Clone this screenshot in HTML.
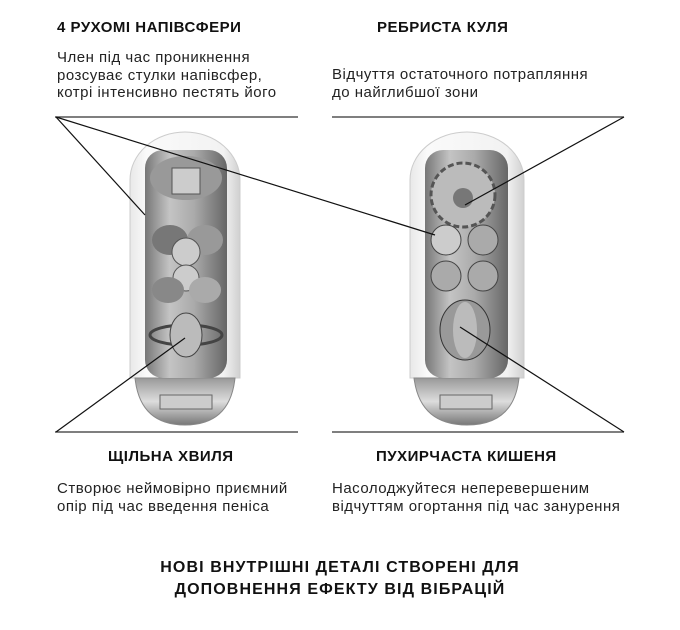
<!DOCTYPE html>
<html><head><meta charset="utf-8"><style>
body{margin:0;background:#fff;width:680px;height:630px;overflow:hidden;position:relative;font-family:"Liberation Sans","DejaVu Sans",sans-serif;color:#111}
.t{position:absolute;font-weight:bold;font-size:15px;letter-spacing:0.5px;white-space:nowrap}
.b{position:absolute;font-size:15px;letter-spacing:0.5px;line-height:17.5px;white-space:nowrap;color:#222}
.f{position:absolute;left:0;width:680px;text-align:center;font-weight:bold;font-size:16px;letter-spacing:1.1px;line-height:22px;top:557px}
</style></head><body>
<svg width="680" height="630" style="position:absolute;left:0;top:0">
<defs>
<linearGradient id="sh" x1="0" x2="1"><stop offset="0" stop-color="#e8e8e8"/><stop offset=".15" stop-color="#fafafa"/><stop offset=".85" stop-color="#f2f2f2"/><stop offset="1" stop-color="#d0d0d0"/></linearGradient>
<linearGradient id="in" x1="0" x2="1"><stop offset="0" stop-color="#777"/><stop offset=".3" stop-color="#c4c4c4"/><stop offset=".6" stop-color="#aaa"/><stop offset="1" stop-color="#666"/></linearGradient>
<linearGradient id="base" x1="0" x2="0" y1="0" y2="1"><stop offset="0" stop-color="#999"/><stop offset=".5" stop-color="#ddd"/><stop offset="1" stop-color="#777"/></linearGradient>
</defs>
<g stroke="#333" stroke-width="1.3" fill="none">
<line x1="55" y1="117" x2="298" y2="117"/><line x1="332" y1="117" x2="624" y2="117"/>
<line x1="55" y1="432" x2="298" y2="432"/><line x1="332" y1="432" x2="624" y2="432"/>
</g>
<g>
<path d="M130 378 V180 a55 48 0 0 1 110 0 V378 Z" fill="url(#sh)" stroke="#ccc"/>
<path d="M135 378 Q140 425 185 425 Q230 425 235 378 Z" fill="url(#base)" stroke="#888"/>
<rect x="145" y="150" width="82" height="228" rx="18" fill="url(#in)"/>
<ellipse cx="186" cy="178" rx="36" ry="22" fill="#999"/>
<rect x="172" y="168" width="28" height="26" fill="#ccc" stroke="#555"/>
<ellipse cx="170" cy="240" rx="18" ry="15" fill="#777"/><ellipse cx="205" cy="240" rx="18" ry="15" fill="#999"/>
<circle cx="186" cy="252" r="14" fill="#ccc" stroke="#555"/>
<circle cx="186" cy="278" r="13" fill="#ccc" stroke="#555"/>
<ellipse cx="168" cy="290" rx="16" ry="13" fill="#888"/><ellipse cx="205" cy="290" rx="16" ry="13" fill="#aaa"/>
<ellipse cx="186" cy="335" rx="36" ry="10" fill="none" stroke="#444" stroke-width="3"/>
<ellipse cx="186" cy="335" rx="16" ry="22" fill="#bbb" stroke="#444"/>
<rect x="160" y="395" width="52" height="14" fill="#ccc" stroke="#666"/>
</g>
<g>
<path d="M410 378 V180 a57 48 0 0 1 114 0 V378 Z" fill="url(#sh)" stroke="#ccc"/>
<path d="M414 378 Q420 425 467 425 Q514 425 519 378 Z" fill="url(#base)" stroke="#888"/>
<rect x="425" y="150" width="83" height="228" rx="18" fill="url(#in)"/>
<circle cx="463" cy="195" r="32" fill="#bbb" stroke="#555" stroke-dasharray="6 3" stroke-width="3"/>
<circle cx="463" cy="198" r="10" fill="#777"/>
<circle cx="446" cy="240" r="15" fill="#ccc" stroke="#444"/><circle cx="483" cy="240" r="15" fill="#aaa" stroke="#444"/>
<circle cx="446" cy="276" r="15" fill="#aaa" stroke="#444"/><circle cx="483" cy="276" r="15" fill="#aaa" stroke="#444"/>
<ellipse cx="465" cy="330" rx="25" ry="30" fill="#999" stroke="#333"/>
<ellipse cx="465" cy="330" rx="12" ry="28" fill="#bbb"/>
<rect x="440" y="395" width="52" height="14" fill="#ccc" stroke="#666"/>
</g>
<g stroke="#111" stroke-width="1.2">
<line x1="56" y1="117" x2="145" y2="215"/><line x1="56" y1="117" x2="435" y2="235"/>
<line x1="624" y1="117" x2="465" y2="205"/>
<line x1="56" y1="432" x2="185" y2="338"/><line x1="624" y1="432" x2="460" y2="327"/>
</g>
</svg>
<div class="t" style="left:57px;top:19px">4 РУХОМІ НАПІВСФЕРИ</div>
<div class="b" style="left:57px;top:49px">Член під час проникнення<br>розсуває стулки напівсфер,<br>котрі інтенсивно пестять його</div>
<div class="t" style="left:377px;top:19px">РЕБРИСТА КУЛЯ</div>
<div class="b" style="left:332px;top:66px">Відчуття остаточного потрапляння<br>до найглибшої зони</div>
<div class="t" style="left:108px;top:448px">ЩІЛЬНА ХВИЛЯ</div>
<div class="b" style="left:57px;top:480px">Створює неймовірно приємний<br>опір під час введення пеніса</div>
<div class="t" style="left:376px;top:448px">ПУХИРЧАСТА КИШЕНЯ</div>
<div class="b" style="left:332px;top:480px">Насолоджуйтеся неперевершеним<br>відчуттям огортання під час занурення</div>
<div class="f">НОВІ ВНУТРІШНІ ДЕТАЛІ СТВОРЕНІ ДЛЯ<br>ДОПОВНЕННЯ ЕФЕКТУ ВІД ВІБРАЦІЙ</div>
</body></html>
